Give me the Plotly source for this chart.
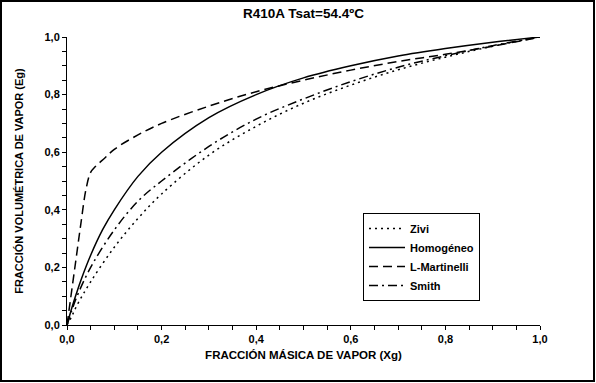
import plotly.graph_objects as go

# Data
x_zivi = [0.0, 0.01, 0.02, 0.05, 0.1, 0.15, 0.2, 0.3, 0.4, 0.5, 0.6, 0.7, 0.8, 0.9, 1.0]
y_zivi = [0.0, 0.03, 0.065, 0.15, 0.27, 0.37, 0.455, 0.59, 0.69, 0.77, 0.833, 0.886, 0.93, 0.968, 1.0]

x_homo = [0.0, 0.01, 0.02, 0.03, 0.05, 0.075, 0.1, 0.15, 0.2, 0.3, 0.4, 0.5, 0.6, 0.7, 0.8, 0.9, 1.0]
y_homo = [0.0, 0.058, 0.11, 0.158, 0.242, 0.33, 0.40, 0.516, 0.60, 0.72, 0.80, 0.858, 0.90, 0.934, 0.96, 0.982, 1.0]

x_lm = [0.0, 0.01, 0.02, 0.03, 0.04, 0.05, 0.06, 0.08, 0.1, 0.15, 0.2, 0.3, 0.4, 0.5, 0.6, 0.7, 0.8, 0.9, 1.0]
y_lm = [0.0, 0.12, 0.24, 0.36, 0.47, 0.53, 0.55, 0.58, 0.61, 0.66, 0.70, 0.76, 0.81, 0.85, 0.885, 0.915, 0.94, 0.968, 1.0]

x_smith = [0.0, 0.01, 0.02, 0.05, 0.1, 0.15, 0.2, 0.3, 0.4, 0.5, 0.6, 0.7, 0.8, 0.9, 1.0]
y_smith = [0.0, 0.05, 0.095, 0.2, 0.33, 0.43, 0.50, 0.62, 0.715, 0.785, 0.845, 0.895, 0.935, 0.97, 1.0]

series_names = ["Zivi", "Homogéneo", "L-Martinelli", "Smith"]

W, H = 596, 383
ML, MR, MT, MB = 67, 56, 37, 58
PW, PH = W - ML - MR, H - MT - MB

fig = go.Figure()
line_w = 1.5
fig.add_trace(go.Scatter(x=x_zivi, y=y_zivi, mode="lines", name=series_names[0],
                         line=dict(color="black", width=line_w, dash="2px,4px"), line_shape="spline"))
fig.add_trace(go.Scatter(x=x_homo, y=y_homo, mode="lines", name=series_names[1],
                         line=dict(color="black", width=line_w), line_shape="spline"))
fig.add_trace(go.Scatter(x=x_lm, y=y_lm, mode="lines", name=series_names[2],
                         line=dict(color="black", width=line_w, dash="9px,5px"), line_shape="spline"))
fig.add_trace(go.Scatter(x=x_smith, y=y_smith, mode="lines", name=series_names[3],
                         line=dict(color="black", width=line_w, dash="9px,4px,2px,4px"), line_shape="spline"))

font_fam = "Liberation Sans"
axis_common = dict(
    range=[0, 1], dtick=0.2, tick0=0, tickformat=".1f",
    ticks="outside", ticklen=4, tickwidth=1, tickcolor="black",
    showline=True, linecolor="black", linewidth=1,
    showgrid=False, zeroline=False,
    minor=dict(ticks="outside", dtick=0.05, ticklen=4, tickcolor="black", tickwidth=1, showgrid=False),
    tickfont=dict(family=font_fam, size=11, color="black", weight="bold"),
)

fig.update_layout(
    width=W, height=H,
    margin=dict(l=ML, r=MR, t=MT, b=MB, autoexpand=False),
    paper_bgcolor="white", plot_bgcolor="white",
    separators=",.",
    title=dict(text="<b>R410A Tsat=54.4ºC</b>", x=(ML + PW / 2) / W, xanchor="center",
               y=1 - 13 / H, yanchor="middle",
               font=dict(family=font_fam, size=13.5, color="black")),
    xaxis=dict(**axis_common,
               title=dict(text="<b>FRACCIÓN MÁSICA DE VAPOR (Xg)</b>", standoff=6,
                          font=dict(family=font_fam, size=11.5, color="black"))),
    yaxis=dict(**axis_common,
               title=dict(text="<b>FRACCIÓN VOLUMÉTRICA DE VAPOR (Eg)</b>", standoff=18,
                          font=dict(family=font_fam, size=11, color="black"))),
    legend=dict(x=(363 - ML) / PW, y=(325 - 213) / PH,
                xanchor="left", yanchor="top",
                bordercolor="black", borderwidth=1, bgcolor="white",
                font=dict(family=font_fam, size=11, color="black", weight="bold"),
                tracegroupgap=0, itemwidth=36),
    showlegend=True,
)

# Outer frame around the whole chart
fig.add_shape(type="rect", xref="paper", yref="paper",
              x0=(1 - ML) / PW, x1=(W - 2 - ML) / PW,
              y0=(MT + PH - (H - 2)) / PH, y1=(MT + PH - 1) / PH,
              line=dict(color="black", width=2), fillcolor="rgba(0,0,0,0)", layer="below")

fig.write_html("out.html", config={"displayModeBar": False},
               post_script="document.body.style.margin='0';document.body.style.overflow='hidden';")
